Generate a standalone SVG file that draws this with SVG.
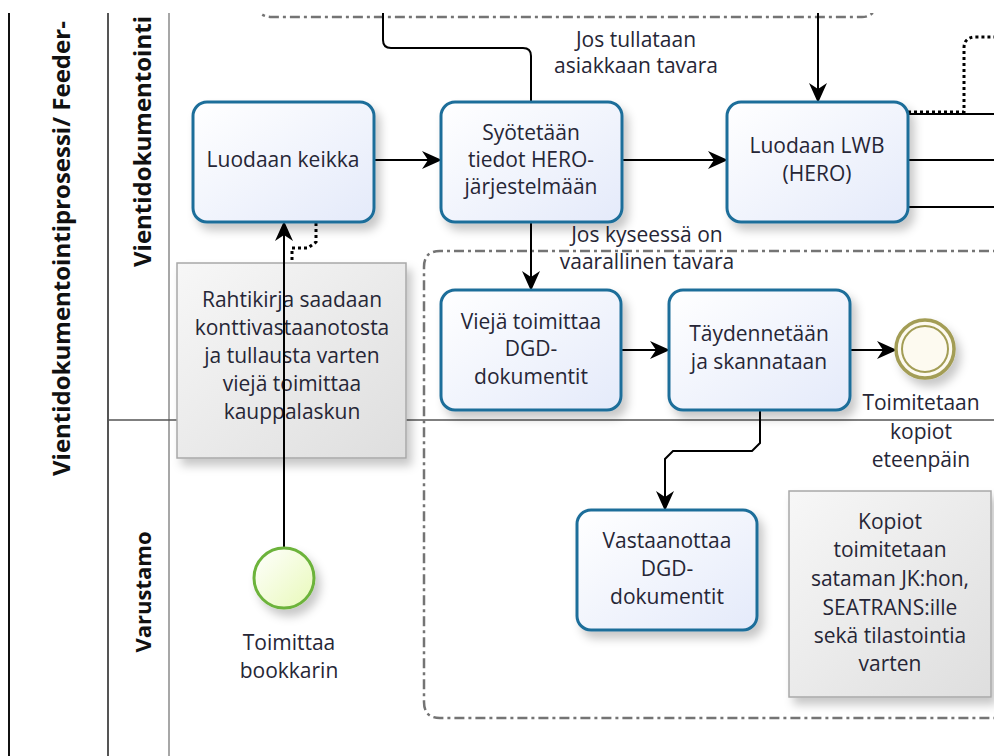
<svg xmlns="http://www.w3.org/2000/svg" width="994" height="756" viewBox="0 0 994 756">
  <defs>
    <style>
      text { font-family: "Open Sans", "Liberation Sans", sans-serif; fill: #262636; }
      .lbl { font-size: 21px; text-anchor: middle; }
      .hdr { font-size: 24px; font-weight: bold; fill: #111; }
      .task { fill: url(#taskFill); stroke: #1f6e9a; stroke-width: 3; filter: url(#shadow); }
      .note { fill: url(#noteFill); stroke: #a8a8a8; stroke-width: 1.5; filter: url(#shadow); }
      .flow { fill: none; stroke: #000; stroke-width: 2; }
      .assoc { fill: none; stroke: #000; stroke-width: 3; stroke-dasharray: 3 3; }
      .group { fill: none; stroke: #747474; stroke-width: 2.5; stroke-dasharray: 10 4 3 4; }
    </style>
    <linearGradient id="taskFill" x1="0" y1="0" x2="1" y2="1">
      <stop offset="0" stop-color="#ffffff"/>
      <stop offset="1" stop-color="#e4eafa"/>
    </linearGradient>
    <linearGradient id="noteFill" x1="0" y1="0" x2="1" y2="1">
      <stop offset="0" stop-color="#f7f7f7"/>
      <stop offset="1" stop-color="#dedede"/>
    </linearGradient>
    <linearGradient id="startFill" x1="0" y1="0" x2="1" y2="1">
      <stop offset="0" stop-color="#ffffff"/>
      <stop offset="1" stop-color="#e8f9b8"/>
    </linearGradient>
    <filter id="shadow" x="-20%" y="-20%" width="150%" height="150%">
      <feDropShadow dx="5" dy="7" stdDeviation="5" flood-color="#000" flood-opacity="0.22"/>
    </filter>
    <marker id="arr" markerWidth="20" markerHeight="20" refX="19" refY="10" orient="auto" markerUnits="userSpaceOnUse">
      <path d="M0,1 L20,10 L0,19 L6,10 Z" fill="#000"/>
    </marker>
    <clipPath id="page">
      <rect x="0" y="13" width="994" height="743"/>
    </clipPath>
  </defs>

  <rect width="994" height="756" fill="#fff"/>

  <g clip-path="url(#page)">
    <!-- pool and lanes -->
    <g id="pool">
      <line x1="9" y1="0" x2="9" y2="756" stroke="#111" stroke-width="2"/>
      <line x1="108" y1="0" x2="108" y2="756" stroke="#555" stroke-width="2"/>
      <line x1="169" y1="0" x2="169" y2="756" stroke="#8a8a8a" stroke-width="1.5"/>
      <line x1="108" y1="420" x2="994" y2="420" stroke="#555" stroke-width="1.5"/>
      <text class="hdr" transform="translate(70,476) rotate(-90)">Vientidokumentointiprosessi/ Feeder-</text>
      <text class="hdr" transform="translate(151,267) rotate(-90)">Vientidokumentointi</text>
      <text class="hdr" text-anchor="middle" style="font-size:22px" transform="translate(151,592) rotate(-90)">Varustamo</text>
    </g>

    <!-- groups -->
    <g id="groups">
      <path class="group" d="M255 3 Q258 17 272 17 H862 Q874 17 878 3"/>
      <path class="group" d="M1010 251 H440 Q424 251 424 267 V702 Q424 718 440 718 H1010"/>
    </g>

    <!-- annotations -->
    <g id="note-rahtikirja">
      <rect class="note" x="177" y="263" width="229" height="195"/>
      <text class="lbl" x="292" y="307">Rahtikirja saadaan</text>
      <text class="lbl" x="292" y="335">konttivastaanotosta</text>
      <text class="lbl" x="292" y="363">ja tullausta varten</text>
      <text class="lbl" x="292" y="391">viejä toimittaa</text>
      <text class="lbl" x="292" y="419">kauppalaskun</text>
    </g>
    <g id="note-kopiot">
      <rect class="note" x="789" y="491" width="202" height="206"/>
      <text class="lbl" x="890" y="529">Kopiot</text>
      <text class="lbl" x="890" y="557">toimitetaan</text>
      <text class="lbl" x="890" y="586">sataman JK:hon,</text>
      <text class="lbl" x="890" y="615">SEATRANS:ille</text>
      <text class="lbl" x="890" y="643">sekä tilastointia</text>
      <text class="lbl" x="890" y="671">varten</text>
    </g>

    <!-- connectors -->
    <g id="connectors">
      <line class="flow" x1="374" y1="160" x2="441" y2="160" marker-end="url(#arr)"/>
      <line class="flow" x1="622" y1="160" x2="727" y2="160" marker-end="url(#arr)"/>
      <path class="flow" d="M383 0 V40 Q383 48 391 48 H523 Q531 48 531 56 V102"/>
      <line class="flow" x1="818" y1="0" x2="818" y2="102" marker-end="url(#arr)"/>
      <line class="flow" x1="908" y1="114" x2="994" y2="114"/>
      <line class="flow" x1="908" y1="160" x2="994" y2="160"/>
      <line class="flow" x1="908" y1="207" x2="994" y2="207"/>
      <path class="assoc" d="M908 112 H964 V48 Q964 37 976 37 H994"/>
      <line class="flow" x1="531" y1="222" x2="531" y2="290" marker-end="url(#arr)"/>
      <line class="flow" x1="621" y1="350" x2="669" y2="350" marker-end="url(#arr)"/>
      <line class="flow" x1="850" y1="350" x2="896" y2="350" marker-end="url(#arr)"/>
      <path class="flow" d="M760 410 V443 L752 451 H673 L665 459 V510" marker-end="url(#arr)"/>
      <path class="assoc" d="M316 223 V242 L308 248 H292 V262"/>
      <line class="flow" x1="284" y1="547" x2="284" y2="222" marker-end="url(#arr)"/>
      <text class="lbl" x="636" y="47">Jos tullataan</text>
      <text class="lbl" x="636" y="73">asiakkaan tavara</text>
      <text class="lbl" x="647" y="242">Jos kyseessä on</text>
      <text class="lbl" x="647" y="269">vaarallinen tavara</text>
    </g>

    <!-- tasks -->
    <g id="task-luodaan-keikka">
      <rect class="task" x="193" y="102" width="181" height="120" rx="14"/>
      <text class="lbl" x="283" y="167">Luodaan keikka</text>
    </g>
    <g id="task-syotetaan">
      <rect class="task" x="441" y="102" width="181" height="120" rx="14"/>
      <text class="lbl" x="531" y="140">Syötetään</text>
      <text class="lbl" x="531" y="167">tiedot HERO-</text>
      <text class="lbl" x="531" y="194">järjestelmään</text>
    </g>
    <g id="task-luodaan-lwb">
      <rect class="task" x="727" y="102" width="181" height="120" rx="14"/>
      <text class="lbl" x="817" y="153">Luodaan LWB</text>
      <text class="lbl" x="817" y="181">(HERO)</text>
    </g>
    <g id="task-vieja-toimittaa">
      <rect class="task" x="441" y="290" width="180" height="120" rx="14"/>
      <text class="lbl" x="531" y="329">Viejä toimittaa</text>
      <text class="lbl" x="531" y="356">DGD-</text>
      <text class="lbl" x="531" y="384">dokumentit</text>
    </g>
    <g id="task-taydennetaan">
      <rect class="task" x="669" y="290" width="181" height="120" rx="14"/>
      <text class="lbl" x="759" y="341">Täydennetään</text>
      <text class="lbl" x="759" y="369">ja skannataan</text>
    </g>
    <g id="task-vastaanottaa">
      <rect class="task" x="577" y="510" width="180" height="120" rx="14"/>
      <text class="lbl" x="667" y="548">Vastaanottaa</text>
      <text class="lbl" x="667" y="576">DGD-</text>
      <text class="lbl" x="667" y="604">dokumentit</text>
    </g>

    <!-- events -->
    <g id="start-event">
      <circle cx="284" cy="578" r="30" fill="url(#startFill)" stroke="#6cb33a" stroke-width="3" filter="url(#shadow)"/>
      <text class="lbl" x="289" y="650">Toimittaa</text>
      <text class="lbl" x="289" y="678">bookkarin</text>
    </g>
    <g id="end-event">
      <circle cx="925" cy="349" r="29" fill="#fdfaf0" stroke="#a39d55" stroke-width="3.5" filter="url(#shadow)"/>
      <circle cx="925" cy="349" r="23" fill="none" stroke="#a39d55" stroke-width="2"/>
      <text class="lbl" x="921" y="410">Toimitetaan</text>
      <text class="lbl" x="921" y="439">kopiot</text>
      <text class="lbl" x="921" y="467">eteenpäin</text>
    </g>
  </g>
</svg>
